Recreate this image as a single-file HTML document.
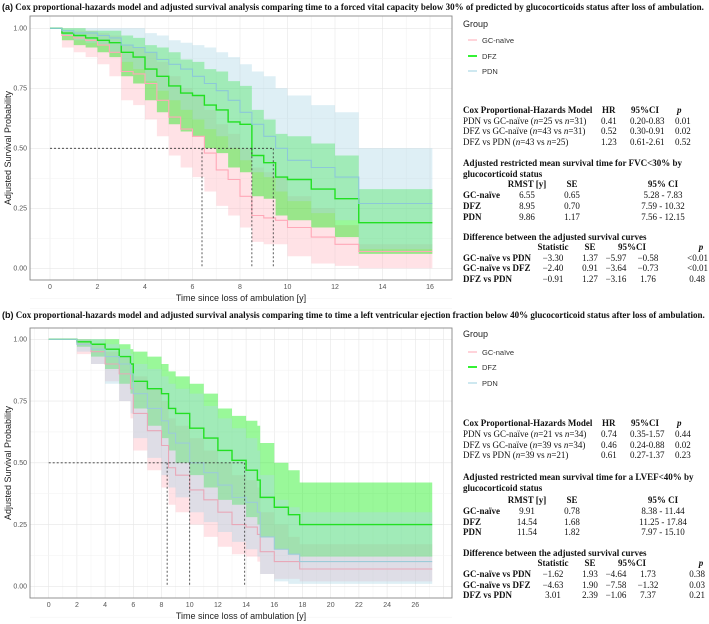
<!DOCTYPE html>
<html><head><meta charset="utf-8"><style>
body{margin:0;background:#fff;width:709px;height:624px;overflow:hidden}
svg{display:block}
.t{font-family:"Liberation Serif",serif;font-size:9px;fill:#111}
.b{font-weight:bold}
.ax{font-family:"Liberation Sans",sans-serif;font-size:7px;fill:#555}
.at{font-family:"Liberation Sans",sans-serif;font-size:9px;fill:#222}
.lg{font-family:"Liberation Sans",sans-serif;font-size:7.5px;fill:#333}
</style></head><body>
<svg id="s" width="709" height="624" xmlns="http://www.w3.org/2000/svg">
<text x="2" y="10" class="t b" style="font-size:9px"><tspan style="font-family:'Liberation Sans',sans-serif">(a)</tspan>  Cox proportional-hazards model and adjusted survival analysis comparing time to a forced vital capacity below 30% of predicted by glucocorticoids status after loss of ambulation.</text>
<text x="2" y="318" class="t b" style="font-size:9px"><tspan style="font-family:'Liberation Sans',sans-serif">(b)</tspan>  Cox proportional-hazards model and adjusted survival analysis comparing time to time a left ventricular ejection fraction below 40% glucocorticoid status after loss of ambulation.</text>
<g id="pa"></g><g id="pb"></g>

<g>
<text x="463" y="27" class="at">Group</text>
<line x1="468" y1="40" x2="477" y2="40" stroke="#ffb6c1" stroke-width="1.2"/><text x="482" y="43" class="lg">GC-naïve</text>
<line x1="468" y1="56" x2="477" y2="56" stroke="#00ee00" stroke-width="1.6"/><text x="482" y="59" class="lg">DFZ</text>
<line x1="468" y1="71" x2="477" y2="71" stroke="#add8e6" stroke-width="1.2"/><text x="482" y="74" class="lg">PDN</text>
</g>
<g>
<text x="463" y="337" class="at">Group</text>
<line x1="468" y1="352" x2="477" y2="352" stroke="#ffb6c1" stroke-width="1.2"/><text x="482" y="355" class="lg">GC-naïve</text>
<line x1="468" y1="367" x2="477" y2="367" stroke="#00ee00" stroke-width="1.6"/><text x="482" y="370" class="lg">DFZ</text>
<line x1="468" y1="383" x2="477" y2="383" stroke="#add8e6" stroke-width="1.2"/><text x="482" y="386" class="lg">PDN</text>
</g>

<g class="t">
<text x="463" y="113" class="b">Cox Proportional-Hazards  Model</text><text x="602" y="113" class="b">HR</text><text x="631" y="113" class="b">95%CI</text><text x="677" y="113" class="b" font-style="italic">p</text>
<text x="463" y="124">PDN vs GC-naïve (<tspan font-style="italic">n</tspan>=25 vs <tspan font-style="italic">n</tspan>=31)</text><text x="601" y="124">0.41</text><text x="630" y="124">0.20-0.83</text><text x="675" y="124">0.01</text>
<text x="463" y="134">DFZ vs GC-naïve (<tspan font-style="italic">n</tspan>=43 vs <tspan font-style="italic">n</tspan>=31)</text><text x="601" y="134">0.52</text><text x="630" y="134">0.30-0.91</text><text x="675" y="134">0.02</text>
<text x="463" y="145">DFZ vs PDN (<tspan font-style="italic">n</tspan>=43 vs <tspan font-style="italic">n</tspan>=25)</text><text x="601" y="145">1.23</text><text x="630" y="145">0.61-2.61</text><text x="675" y="145">0.52</text>
<text x="463" y="166" class="b">Adjusted restricted mean survival time for FVC&lt;30% by</text>
<text x="463" y="177" class="b">glucocorticoid status</text>
<text x="527" y="187" class="b" text-anchor="middle">RMST [y]</text><text x="572" y="187" class="b" text-anchor="middle">SE</text><text x="663" y="187" class="b" text-anchor="middle">95% CI</text>
<text x="463" y="198" class="b">GC-naïve</text><text x="527" y="198" text-anchor="middle">6.55</text><text x="572" y="198" text-anchor="middle">0.65</text><text x="663" y="198" text-anchor="middle">5.28 - 7.83</text>
<text x="463" y="209" class="b">DFZ</text><text x="527" y="209" text-anchor="middle">8.95</text><text x="572" y="209" text-anchor="middle">0.70</text><text x="663" y="209" text-anchor="middle">7.59 - 10.32</text>
<text x="463" y="220" class="b">PDN</text><text x="527" y="220" text-anchor="middle">9.86</text><text x="572" y="220" text-anchor="middle">1.17</text><text x="663" y="220" text-anchor="middle">7.56 - 12.15</text>
<text x="463" y="240" class="b">Difference between the adjusted survival curves</text>
<text x="553" y="250" class="b" text-anchor="middle">Statistic</text><text x="590" y="250" class="b" text-anchor="middle">SE</text><text x="632" y="250" class="b" text-anchor="middle">95%CI</text><text x="701" y="250" class="b" font-style="italic" text-anchor="middle">p</text>
<text x="463" y="261" class="b">GC-naïve vs PDN</text><text x="553" y="261" text-anchor="middle">−3.30</text><text x="590" y="261" text-anchor="middle">1.37</text><text x="616" y="261" text-anchor="middle">−5.97</text><text x="648" y="261" text-anchor="middle">−0.58</text><text x="708" y="261" text-anchor="end">&lt;0.01</text>
<text x="463" y="271" class="b">GC-naïve vs DFZ</text><text x="553" y="271" text-anchor="middle">−2.40</text><text x="590" y="271" text-anchor="middle">0.91</text><text x="616" y="271" text-anchor="middle">−3.64</text><text x="648" y="271" text-anchor="middle">−0.73</text><text x="708" y="271" text-anchor="end">&lt;0.01</text>
<text x="463" y="282" class="b">DFZ vs PDN</text><text x="553" y="282" text-anchor="middle">−0.91</text><text x="590" y="282" text-anchor="middle">1.27</text><text x="616" y="282" text-anchor="middle">−3.16</text><text x="648" y="282" text-anchor="middle">1.76</text><text x="705" y="282" text-anchor="end">0.48</text>
</g>

<g class="t">
<text x="463" y="426" class="b">Cox Proportional-Hazards  Model</text><text x="602" y="426" class="b">HR</text><text x="631" y="426" class="b">95%CI</text><text x="677" y="426" class="b" font-style="italic">p</text>
<text x="463" y="437">PDN vs GC-naïve (<tspan font-style="italic">n</tspan>=21 vs <tspan font-style="italic">n</tspan>=34)</text><text x="601" y="437">0.74</text><text x="630" y="437">0.35-1.57</text><text x="675" y="437">0.44</text>
<text x="463" y="448">DFZ vs GC-naïve (<tspan font-style="italic">n</tspan>=39 vs <tspan font-style="italic">n</tspan>=34)</text><text x="601" y="448">0.46</text><text x="630" y="448">0.24-0.88</text><text x="675" y="448">0.02</text>
<text x="463" y="458">DFZ vs PDN (<tspan font-style="italic">n</tspan>=39 vs <tspan font-style="italic">n</tspan>=21)</text><text x="601" y="458">0.61</text><text x="630" y="458">0.27-1.37</text><text x="675" y="458">0.23</text>
<text x="463" y="480" class="b">Adjusted restricted mean survival time for a LVEF&lt;40% by</text>
<text x="463" y="491" class="b">glucocorticoid status</text>
<text x="527" y="503" class="b" text-anchor="middle">RMST [y]</text><text x="572" y="503" class="b" text-anchor="middle">SE</text><text x="663" y="503" class="b" text-anchor="middle">95% CI</text>
<text x="463" y="514" class="b">GC-naïve</text><text x="527" y="514" text-anchor="middle">9.91</text><text x="572" y="514" text-anchor="middle">0.78</text><text x="663" y="514" text-anchor="middle">8.38 - 11.44</text>
<text x="463" y="525" class="b">DFZ</text><text x="527" y="525" text-anchor="middle">14.54</text><text x="572" y="525" text-anchor="middle">1.68</text><text x="663" y="525" text-anchor="middle">11.25 - 17.84</text>
<text x="463" y="535" class="b">PDN</text><text x="527" y="535" text-anchor="middle">11.54</text><text x="572" y="535" text-anchor="middle">1.82</text><text x="663" y="535" text-anchor="middle">7.97 -  15.10</text>
<text x="463" y="556" class="b">Difference between the adjusted survival curves</text>
<text x="553" y="566" class="b" text-anchor="middle">Statistic</text><text x="590" y="566" class="b" text-anchor="middle">SE</text><text x="632" y="566" class="b" text-anchor="middle">95%CI</text><text x="701" y="566" class="b" font-style="italic" text-anchor="middle">p</text>
<text x="463" y="577" class="b">GC-naïve vs PDN</text><text x="553" y="577" text-anchor="middle">−1.62</text><text x="590" y="577" text-anchor="middle">1.93</text><text x="616" y="577" text-anchor="middle">−4.64</text><text x="648" y="577" text-anchor="middle">1.73</text><text x="705" y="577" text-anchor="end">0.38</text>
<text x="463" y="588" class="b">GC-naïve vs DFZ</text><text x="553" y="588" text-anchor="middle">−4.63</text><text x="590" y="588" text-anchor="middle">1.90</text><text x="616" y="588" text-anchor="middle">−7.58</text><text x="648" y="588" text-anchor="middle">−1.32</text><text x="705" y="588" text-anchor="end">0.03</text>
<text x="463" y="598" class="b">DFZ vs PDN</text><text x="553" y="598" text-anchor="middle">3.01</text><text x="590" y="598" text-anchor="middle">2.39</text><text x="616" y="598" text-anchor="middle">−1.06</text><text x="648" y="598" text-anchor="middle">7.37</text><text x="705" y="598" text-anchor="end">0.21</text>
</g>
</svg>
<script>
// Panel (a) data
const timesA=[0,0.5,1,1.5,2,2.5,3,3.5,4,4.5,5,5.5,6,6.5,7,7.5,8,8.5,9,9.5,10,11,12,13];
const endA=16.1;
const gcA=[1,0.97,0.96,0.95,0.93,0.9,0.82,0.81,0.77,0.7,0.63,0.58,0.55,0.48,0.41,0.37,0.3,0.22,0.21,0.2,0.17,0.13,0.1,0.07];
const gcLoA=[1,0.92,0.9,0.88,0.85,0.8,0.7,0.68,0.62,0.55,0.47,0.42,0.38,0.32,0.26,0.22,0.17,0.11,0.1,0.1,0.05,0.02,0.01,0];
const gcHiA=[1,0.99,0.99,0.99,0.98,0.97,0.93,0.92,0.9,0.86,0.8,0.75,0.72,0.66,0.6,0.56,0.5,0.42,0.4,0.38,0.3,0.25,0.18,0.1];
const dfzA=[1,0.98,0.97,0.96,0.95,0.94,0.9,0.88,0.83,0.8,0.76,0.73,0.72,0.68,0.66,0.61,0.6,0.47,0.44,0.38,0.37,0.33,0.29,0.19];
const dfzLoA=[1,0.95,0.93,0.92,0.9,0.88,0.8,0.77,0.7,0.65,0.6,0.57,0.55,0.5,0.48,0.42,0.4,0.3,0.29,0.22,0.2,0.17,0.13,0.06];
const dfzHiA=[1,1,1,0.99,0.99,0.99,0.97,0.96,0.93,0.92,0.9,0.87,0.86,0.83,0.82,0.78,0.76,0.66,0.62,0.56,0.55,0.52,0.47,0.33];
const pdnA=[1,0.99,0.98,0.98,0.97,0.96,0.93,0.92,0.9,0.87,0.85,0.83,0.8,0.77,0.74,0.7,0.65,0.6,0.55,0.5,0.45,0.42,0.38,0.27];
const pdnLoA=[1,0.97,0.95,0.94,0.93,0.9,0.86,0.83,0.78,0.74,0.7,0.66,0.62,0.58,0.55,0.5,0.45,0.4,0.38,0.32,0.28,0.23,0.2,0.08];
const pdnHiA=[1,1,1,1,1,1,1,1,0.98,0.97,0.95,0.94,0.93,0.92,0.9,0.88,0.85,0.82,0.8,0.75,0.72,0.68,0.65,0.5];
const mediansA=[6.4,8.5,9.4];
const xTicksA=[0,2,4,6,8,10,12,14,16];
// Panel (b) data
const timesB=[0,1,2,3,4,5,5.8,6,7,8,8.5,9,10,11,12,13,14,14.8,15,16,17,17.8];
const endB=27.2;
const dfzB=[1,1,0.99,0.98,0.96,0.93,0.9,0.83,0.8,0.78,0.72,0.7,0.64,0.6,0.55,0.51,0.47,0.43,0.36,0.32,0.29,0.25];
const dfzLoB=[1,1,0.97,0.93,0.88,0.82,0.78,0.72,0.65,0.6,0.55,0.5,0.45,0.4,0.35,0.33,0.28,0.25,0.2,0.15,0.13,0.12];
const dfzHiB=[1,1,1,1,1,0.98,0.96,0.95,0.93,0.9,0.87,0.85,0.82,0.78,0.72,0.69,0.67,0.65,0.58,0.5,0.47,0.42];
const gcB=[1,1,0.98,0.95,0.9,0.86,0.8,0.7,0.63,0.57,0.48,0.45,0.39,0.35,0.3,0.25,0.24,0.21,0.14,0.1,0.1,0.07];
const gcLoB=[1,1,0.94,0.9,0.83,0.75,0.68,0.55,0.47,0.4,0.33,0.3,0.25,0.2,0.16,0.13,0.12,0.1,0.05,0.03,0.03,0.02];
const gcHiB=[1,1,1,0.98,0.95,0.93,0.9,0.85,0.8,0.75,0.68,0.65,0.6,0.55,0.5,0.45,0.43,0.4,0.3,0.25,0.2,0.17];
const pdnB=[1,1,0.98,0.96,0.93,0.9,0.86,0.78,0.72,0.67,0.62,0.58,0.5,0.46,0.41,0.36,0.34,0.3,0.2,0.15,0.13,0.1];
const pdnLoB=[1,1,0.95,0.9,0.82,0.75,0.7,0.6,0.52,0.45,0.4,0.36,0.3,0.26,0.22,0.18,0.15,0.12,0.05,0.02,0.01,0.01];
const pdnHiB=[1,1,1,1,0.98,0.96,0.94,0.9,0.88,0.85,0.82,0.8,0.78,0.73,0.68,0.64,0.6,0.55,0.45,0.35,0.32,0.3];
const mediansB=[8.4,10.0,13.9];
const xTicksB=[0,2,4,6,8,10,12,14,16,18,20,22,24,26];
const yTicks=[0,0.25,0.5,0.75,1];
const yTickLabels=["0.00","0.25","0.50","0.75","1.00"];

const NS="http://www.w3.org/2000/svg";
function mk(tag,attrs,parent){const e=document.createElementNS(NS,tag);for(const k in attrs)e.setAttribute(k,attrs[k]);parent.appendChild(e);return e;}

function panel(g,cfg){
  const X=t=>cfg.x0+t*cfg.px, Y=s=>cfg.y0+(1-s)*cfg.py;
  const step=cfg.xStep;
  for(let t=cfg.xmin;t<=cfg.xmax+0.001;t+=step/2){
    const l=mk('line',{x1:X(t),x2:X(t),y1:cfg.top,y2:cfg.bot,stroke:(Math.round(t/step*2)%2?'#f3f3f3':'#e6e6e6'),'stroke-width':0.6},g);
    
    
  }
  for(let s=-0.125;s<=1.126;s+=0.125){
    const l=mk('line',{x1:cfg.left,x2:cfg.right,y1:Y(s),y2:Y(s),stroke:(Math.round(s*8)%2?'#f3f3f3':'#e6e6e6'),'stroke-width':0.6},g);
    
    
  }
  const T=cfg.times,E=cfg.end;
  function stepD(v){let d='M'+X(T[0])+' '+Y(v[0]);for(let i=1;i<T.length;i++){d+=' H'+X(T[i])+' V'+Y(v[i]);}return d+' H'+X(E);}
  function bandD(lo,hi){let d=stepD(hi);d+=' V'+Y(lo[lo.length-1]);for(let i=T.length-1;i>=1;i--){d+=' H'+X(T[i])+' V'+Y(lo[i-1]);}return d+' H'+X(T[0])+' Z';}
  cfg.groups.forEach(gr=>{
    const p=mk('path',{d:bandD(gr.lo,gr.hi),fill:gr.fill,'fill-opacity':0.4,stroke:'none'},g);
    
    
  });
  cfg.groups.forEach(gr=>{
    const p=mk('path',{d:stepD(gr.s),fill:'none',stroke:gr.line,'stroke-width':gr.w},g);
    
    
  });
  const mx=Math.max(...cfg.medians);
  const h=mk('line',{x1:X(0),x2:X(mx),y1:Y(0.5),y2:Y(0.5),stroke:'#333','stroke-width':0.8,'stroke-dasharray':'2,2'},g);
  
  
  cfg.medians.forEach(m=>{
    const v=mk('line',{x1:X(m),x2:X(m),y1:Y(0.5),y2:Y(0),stroke:'#333','stroke-width':0.8,'stroke-dasharray':'2,2'},g);
    
    
  });
  const b=mk('rect',{x:cfg.left,y:cfg.top,width:cfg.right-cfg.left,height:cfg.bot-cfg.top,fill:'none',stroke:'#888','stroke-width':0.9},g);
  
  
  cfg.xTicks.forEach(t=>{
    const tx=mk('text',{x:X(t),y:cfg.bot+9,'text-anchor':'middle',class:'ax'},g);tx.textContent=t;
    
    
  });
  yTicks.forEach((s,i)=>{
    const tx=mk('text',{x:cfg.left-3,y:Y(s)+2.3,'text-anchor':'end',class:'ax'},g);tx.textContent=yTickLabels[i];
    
    
  });
  const xt=mk('text',{x:(cfg.left+cfg.right)/2,y:cfg.bot+21,'text-anchor':'middle',class:'at'},g);xt.textContent='Time since loss of ambulation [y]';
  
  
  const yc=(cfg.top+cfg.bot)/2;
  const yt=mk('text',{x:11,y:yc,'text-anchor':'middle',class:'at',transform:'rotate(-90 11 '+yc+')'},g);yt.textContent='Adjusted Survival Probability';
  
  
}
const pa=document.getElementById('pa');


panel(pa,{x0:50,px:23.75,y0:28.3,py:240,left:30,right:452,top:16,bot:280,xmin:0,xmax:16,xStep:2,
  times:timesA,end:endA,medians:mediansA,xTicks:xTicksA,
  groups:[{name:'gc-naive',s:gcA,lo:gcLoA,hi:gcHiA,fill:'#ffb6c1',line:'#ffa8b8',w:1.1},
          {name:'dfz',s:dfzA,lo:dfzLoA,hi:dfzHiA,fill:'#00ee00',line:'#22e022',w:1.4},
          {name:'pdn',s:pdnA,lo:pdnLoA,hi:pdnHiA,fill:'#add8e6',line:'#8cc8d8',w:1.1}]});
const pb=document.getElementById('pb');


panel(pb,{x0:48.7,px:14.1,y0:339.3,py:247,left:30,right:452,top:328,bot:598,xmin:-1,xmax:28,xStep:2,
  times:timesB,end:endB,medians:mediansB,xTicks:xTicksB,
  groups:[{name:'gc-naive',s:gcB,lo:gcLoB,hi:gcHiB,fill:'#ffb6c1',line:'#e8a8b8',w:1.1},
          {name:'dfz',s:dfzB,lo:dfzLoB,hi:dfzHiB,fill:'#00ee00',line:'#22e022',w:1.4},
          {name:'pdn',s:pdnB,lo:pdnLoB,hi:pdnHiB,fill:'#add8e6',line:'#9ccbd8',w:1.1}]});
</script>
</body></html>
